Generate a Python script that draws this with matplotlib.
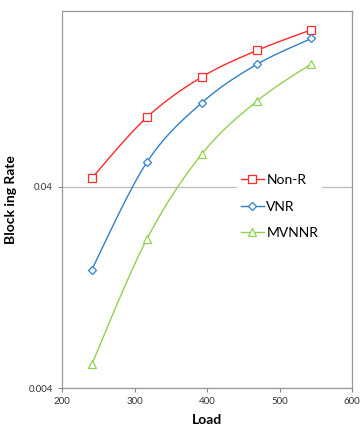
import numpy as np
import matplotlib
matplotlib.use("Agg")
import matplotlib.pyplot as plt
from matplotlib.lines import Line2D

load = [241, 317, 393, 469, 544]
non_r = [0.0442, 0.0888, 0.141, 0.191, 0.242]
vnr = [0.0155, 0.053, 0.105, 0.163, 0.219]
mvnnr = [0.00524, 0.0220, 0.0584, 0.107, 0.164]
series_names = ["Non-R", "VNR", "MVNNR"]
x_ticks = [200, 300, 400, 500, 600]
y_ticks = [0.004, 0.04]
y_tick_labels = ["0.004", "0.04"]

plt.rcParams['font.family'] = ['Lato', 'DejaVu Sans']

fig = plt.figure(figsize=(3.63, 4.28), dpi=100)
ax = fig.add_axes([62/363, 40/428, 290/363, 377/428])
ax.set_yscale('log')
ax.set_xlim(200, 600)
ax.set_ylim(0.004, 0.3)

def smooth(xs, ys, n=30):
    # Catmull-Rom smoothing in x / log10(y) space (chart drawing style)
    px = np.asarray(xs, float)
    py = np.log10(np.asarray(ys, float))
    sx = 290/400.0
    sy = 201.0
    P = np.column_stack([px*sx, py*sy])
    P = np.vstack([P[0], P, P[-1]])
    out = []
    for i in range(1, len(P)-2):
        p0, p1, p2, p3 = P[i-1], P[i], P[i+1], P[i+2]
        c1 = p1 + (p2 - p0)/6.0
        c2 = p2 - (p3 - p1)/6.0
        t = np.linspace(0, 1, n)[:, None]
        b = ((1-t)**3)*p1 + 3*((1-t)**2)*t*c1 + 3*(1-t)*t**2*c2 + t**3*p2
        out.append(b if i == 1 else b[1:])
    B = np.vstack(out)
    return B[:, 0]/sx, 10**(B[:, 1]/sy)

styles = [
    (non_r, '#FF2A2A', 's', 5.2),
    (vnr, '#2F80CC', 'D', 3.6),
    (mvnnr, '#92D050', '^', 6),
]
handles = []
for (vals, col, mk, ms), name in zip(styles, series_names):
    sxv, syv = smooth(load, vals)
    ax.plot(sxv, syv, color=col, lw=1.0, zorder=3)
    ax.plot(load, vals, linestyle='none', marker=mk, markersize=ms,
            markerfacecolor='white', markeredgecolor=col, markeredgewidth=0.9, zorder=4)
    handles.append(Line2D([0], [0], color=col, lw=1.0, marker=mk, markersize=ms,
                          markerfacecolor='white', markeredgecolor=col, markeredgewidth=0.9))

ax.set_xticks(x_ticks)
ax.set_yticks(y_ticks)
ax.set_yticklabels(y_tick_labels)
ax.yaxis.set_minor_locator(matplotlib.ticker.NullLocator())
ax.tick_params(axis='both', labelsize=7, length=3, width=0.8, color='#888888', labelcolor='#333333')
ax.grid(axis='y', which='major', color='#BBBBBB', lw=0.9, zorder=1)
for sp in ax.spines.values():
    sp.set_color('#999999')
    sp.set_linewidth(0.9)

ax.set_xlabel('Load', fontsize=10, fontweight='bold', labelpad=6)
ax.set_ylabel('Block ing Rate', fontsize=10, fontweight='bold', labelpad=8)

leg = ax.legend(handles, series_names, loc='upper left', bbox_to_anchor=(0.58, 0.597),
                frameon=True, fontsize=10, handlelength=1.6, handletextpad=0.2,
                labelspacing=1.05, borderpad=0.3)
leg.get_frame().set_edgecolor('none')
leg.get_frame().set_facecolor('white')
leg.get_frame().set_alpha(1.0)
leg.set_zorder(5)

fig.savefig('out.png', dpi=100)
